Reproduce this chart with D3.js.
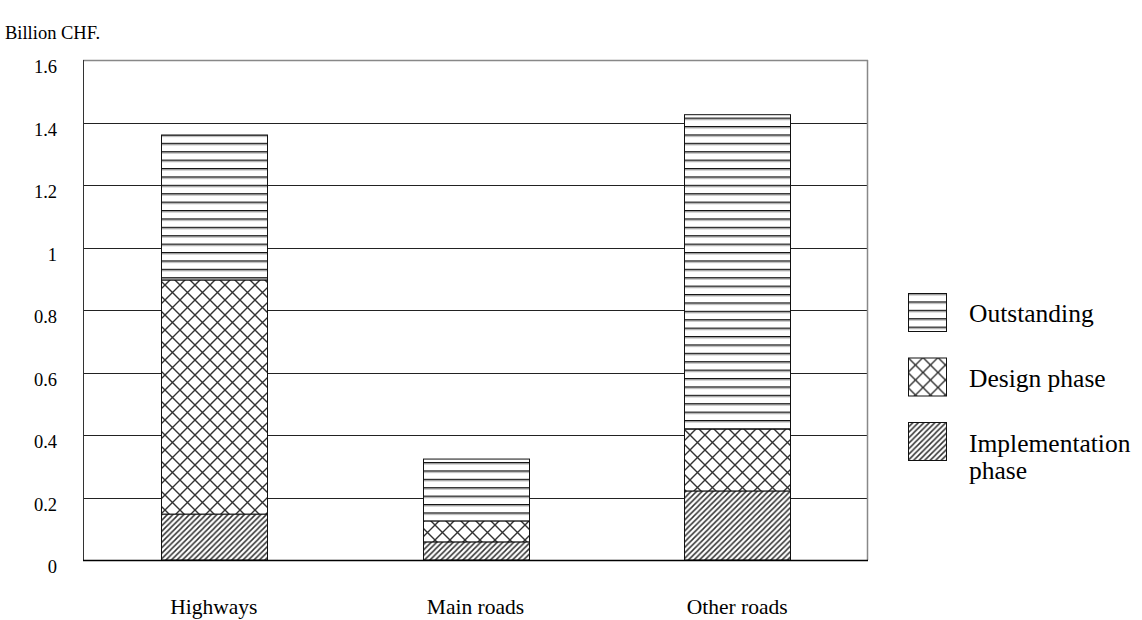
<!DOCTYPE html>
<html>
<head>
<meta charset="utf-8">
<script src="https://cdn.jsdelivr.net/npm/d3@7"></script>
<style>
  html, body { margin: 0; padding: 0; background: #fff; }
  svg { display: block; font-family: "Liberation Serif", "Times New Roman", serif; }
</style>
</head>
<body>
<svg id="chart" width="1142" height="620"></svg>
<script>
// ---- data ----
const categories = ["Highways", "Main roads", "Other roads"];
const implementationPhase = [0.147, 0.058, 0.221];
const designPhase = [0.749, 0.067, 0.198];
const outstanding = [0.464, 0.198, 1.006];
const seriesNames = ["Implementation phase", "Design phase", "Outstanding"];
const yTicks = [0, 0.2, 0.4, 0.6, 0.8, 1, 1.2, 1.4, 1.6];
const unitLabel = "Billion CHF.";

// ---- layout ----
const svg = d3.select("#chart");
const plot = { left: 83, right: 868, top: 60, bottom: 560 };

const x = d3.scaleBand().domain(categories).range([plot.left, plot.right]).paddingInner(0).paddingOuter(0);
const barW = 106;
const y = d3.scaleLinear().domain([0, 1.6]).range([plot.bottom, plot.top]);

// ---- patterns ----
const defs = svg.append("defs");
// horizontal lines
const pH = defs.append("pattern").attr("id", "pat-out").attr("patternUnits", "userSpaceOnUse")
  .attr("width", 8).attr("height", 8.4);
pH.append("rect").attr("width", 8).attr("height", 8.4).attr("fill", "#fff");
pH.append("rect").attr("y", 0).attr("width", 8).attr("height", 1.4).attr("fill", "#111");
pH.append("rect").attr("y", 1.4).attr("width", 8).attr("height", 1).attr("fill", "#aaa");
// crosshatch diamonds
const pX = defs.append("pattern").attr("id", "pat-design").attr("patternUnits", "userSpaceOnUse")
  .attr("width", 15).attr("height", 15);
pX.append("rect").attr("width", 15).attr("height", 15).attr("fill", "#fff");
pX.append("path").attr("d", "M0,0 L15,15 M15,0 L0,15 M-7.5,7.5 L7.5,22.5 M7.5,-7.5 L22.5,7.5 M-7.5,7.5 L7.5,-7.5 M7.5,22.5 L22.5,7.5")
  .attr("stroke", "#333").attr("stroke-width", 1.4).attr("fill", "none");
// diagonal hatch
const pD = defs.append("pattern").attr("id", "pat-impl").attr("patternUnits", "userSpaceOnUse")
  .attr("width", 5.5).attr("height", 5.5);
pD.append("rect").attr("width", 5.5).attr("height", 5.5).attr("fill", "#fff");
pD.append("path").attr("d", "M-1.375,1.375 L1.375,-1.375 M0,5.5 L5.5,0 M4.125,6.875 L6.875,4.125")
  .attr("stroke", "#333").attr("stroke-width", 1.5).attr("fill", "none");

const fills = ["url(#pat-impl)", "url(#pat-design)", "url(#pat-out)"];

// ---- gridlines ----
svg.append("g").selectAll("line").data(yTicks.filter(t => t > 0 && t < 1.6)).join("line")
  .attr("x1", plot.left).attr("x2", plot.right)
  .attr("y1", d => Math.round(y(d)) + 0.5).attr("y2", d => Math.round(y(d)) + 0.5)
  .attr("stroke", "#222").attr("stroke-width", 1);

// frame
svg.append("line").attr("x1", plot.left).attr("x2", plot.right).attr("y1", plot.top + 0.5).attr("y2", plot.top + 0.5)
  .attr("stroke", "#888").attr("stroke-width", 1.5);
svg.append("line").attr("x1", plot.right - 0.5).attr("x2", plot.right - 0.5).attr("y1", plot.top).attr("y2", plot.bottom)
  .attr("stroke", "#888").attr("stroke-width", 1.5);
svg.append("line").attr("x1", plot.left + 0.5).attr("x2", plot.left + 0.5).attr("y1", plot.top).attr("y2", plot.bottom)
  .attr("stroke", "#333").attr("stroke-width", 1);

// ---- bars ----
const rows = categories.map((c, i) => ({
  cat: c,
  "Implementation phase": implementationPhase[i],
  "Design phase": designPhase[i],
  "Outstanding": outstanding[i]
}));
const stack = d3.stack().keys(seriesNames)(rows);

svg.append("g").selectAll("g").data(stack).join("g")
  .attr("fill", (d, i) => fills[i])
  .selectAll("rect").data(d => d).join("rect")
  .attr("x", d => Math.round(x(d.data.cat) + x.bandwidth() / 2 - barW / 2) + 0.5)
  .attr("width", barW)
  .attr("y", d => y(d[1]))
  .attr("height", d => y(d[0]) - y(d[1]))
  .attr("stroke", "#111").attr("stroke-width", 1);

// bottom axis line
svg.append("line").attr("x1", plot.left).attr("x2", plot.right).attr("y1", plot.bottom + 0.5).attr("y2", plot.bottom + 0.5)
  .attr("stroke", "#000").attr("stroke-width", 1.5);

// ---- y axis labels ----
const fmt = d3.format("~g");
svg.append("g").selectAll("text").data(yTicks).join("text")
  .attr("x", 57).attr("y", d => y(d) + 13)
  .attr("text-anchor", "end").attr("font-size", 18.5).attr("fill", "#000")
  .text(d => fmt(d));

// ---- x axis labels ----
svg.append("g").selectAll("text").data(categories).join("text")
  .attr("x", d => x(d) + x.bandwidth() / 2).attr("y", 614)
  .attr("text-anchor", "middle").attr("font-size", 21.5).attr("fill", "#000")
  .text(d => d);

// unit label
svg.append("text").attr("x", 5).attr("y", 39).attr("font-size", 18.5).attr("fill", "#000").text(unitLabel);

// ---- legend ----
const legendItems = [
  { name: "Outstanding", fill: fills[2], lines: ["Outstanding"] },
  { name: "Design phase", fill: fills[1], lines: ["Design phase"] },
  { name: "Implementation phase", fill: fills[0], lines: ["Implementation", "phase"] }
];
const legend = svg.append("g");
const lg = legend.selectAll("g").data(legendItems).join("g")
  .attr("transform", (d, i) => `translate(908,${293 + i * 64.5})`);
lg.append("rect").attr("x", 0.5).attr("y", 0.5).attr("width", 38).attr("height", 38)
  .attr("fill", d => d.fill).attr("stroke", "#111").attr("stroke-width", 1);
lg.each(function (d) {
  const t = d3.select(this).append("text").attr("x", 61).attr("font-size", 25.5).attr("fill", "#000");
  t.selectAll("tspan").data(d.lines).join("tspan")
    .attr("x", 61).attr("y", (l, j) => (d.lines.length === 1 ? 29 : 30 + j * 27))
    .text(l => l);
});
</script>
</body>
</html>
